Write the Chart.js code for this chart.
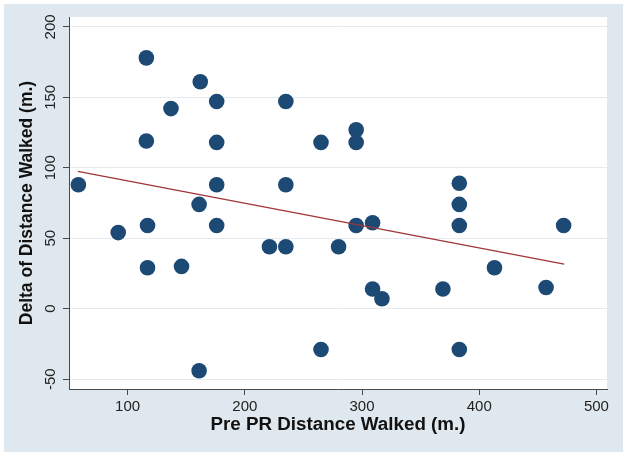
<!DOCTYPE html>
<html>
<head>
<meta charset="utf-8">
<script src="https://cdn.jsdelivr.net/npm/chart.js@4/dist/chart.umd.min.js"></script>
<style>
  html, body { margin: 0; padding: 0; background: #fff; }
  #wrap { width: 626px; height: 456px; }
</style>
</head>
<body>
<div id="wrap"><canvas id="chart" width="626" height="456"></canvas></div>
<script>
// ===== DATA =====
const preDist = [58, 92, 116, 116, 117, 117, 137, 146, 162, 161, 161, 176, 176, 176, 176, 221, 235, 235,
                 235, 265, 265, 280, 295, 295, 295, 309, 309, 317, 369, 383, 383, 383, 383, 413, 457, 472];
const deltaDist = [88, 54, 178, 119, 59, 29, 142, 30, 161, 74, -44, 147, 118, 88, 59, 44, 147, 88,
                   44, 118, -29, 44, 127, 118, 59, 61, 14, 7, 14, 89, 74, 59, -29, 29, 15, 59];
// fitted line end points
const fitX = [57.5, 472.5];
const fitY = [97.5, 31.7];
const xTicks = [100, 200, 300, 400, 500];
const yTicks = [-50, 0, 50, 100, 150, 200];

const points = preDist.map((x, i) => ({ x: x, y: deltaDist[i] }));
const fitLine = fitX.map((x, i) => ({ x: x, y: fitY[i] }));

const AXIS = '#4a4a4a';
const GRID = '#e4ecf2';
const FONT = 'Liberation Sans, Arial, sans-serif';

// graph region background + white plot area
const bgPlugin = {
  id: 'bg',
  beforeDraw(chart) {
    const ctx = chart.ctx, a = chart.chartArea;
    ctx.save();
    ctx.fillStyle = '#dfe8ee';
    ctx.fillRect(4, 4, 619, 448);
    ctx.fillStyle = '#ffffff';
    ctx.fillRect(a.left, a.top, a.right - a.left, a.bottom - a.top);
    ctx.restore();
  }
};

new Chart(document.getElementById('chart'), {
  type: 'scatter',
  data: {
    datasets: [
      {
        type: 'line',
        data: fitLine,
        borderColor: '#a0353a',
        borderWidth: 1.3,
        pointRadius: 0,
        fill: false,
        order: 0
      },
      {
        data: points,
        backgroundColor: '#1c4a75',
        borderWidth: 0,
        pointRadius: 7.8,
        order: 1
      }
    ]
  },
  options: {
    responsive: false,
    animation: false,
    devicePixelRatio: 1,
    layout: { padding: { left: 4, right: 19, top: 17, bottom: 4 } },
    plugins: { legend: { display: false }, tooltip: { enabled: false } },
    scales: {
      x: {
        type: 'linear',
        min: 50, max: 509,
        afterBuildTicks: s => { s.ticks = xTicks.map(v => ({ value: v })); },
        afterFit: s => { s.height = 63; },
        border: { color: AXIS, width: 1 },
        grid: { drawOnChartArea: false, drawTicks: true, tickLength: 6, tickColor: AXIS },
        ticks: { color: '#222', font: { family: FONT, size: 15 }, padding: 3, maxRotation: 0 },
        title: {
          display: true,
          text: 'Pre PR Distance Walked (m.)',
          color: '#111',
          font: { family: FONT, size: 18.8, weight: 'bold' },
          padding: { top: 0, bottom: 16 }
        }
      },
      y: {
        type: 'linear',
        min: -57, max: 207,
        afterBuildTicks: s => { s.ticks = yTicks.map(v => ({ value: v })); },
        afterFit: s => { s.width = 65; },
        border: { color: AXIS, width: 1 },
        grid: { color: GRID, lineWidth: 1, drawTicks: true, tickLength: 6, tickColor: AXIS },
        ticks: { color: '#222', font: { family: FONT, size: 15 }, padding: 0, minRotation: 90, maxRotation: 90, crossAlign: 'center' },
        title: {
          display: true,
          text: 'Delta of Distance Walked (m.)',
          color: '#111',
          font: { family: FONT, size: 17.5, weight: 'bold' },
          padding: { top: 12.5, bottom: 0 }
        }
      }
    }
  },
  plugins: [bgPlugin]
});
</script>
</body>
</html>
